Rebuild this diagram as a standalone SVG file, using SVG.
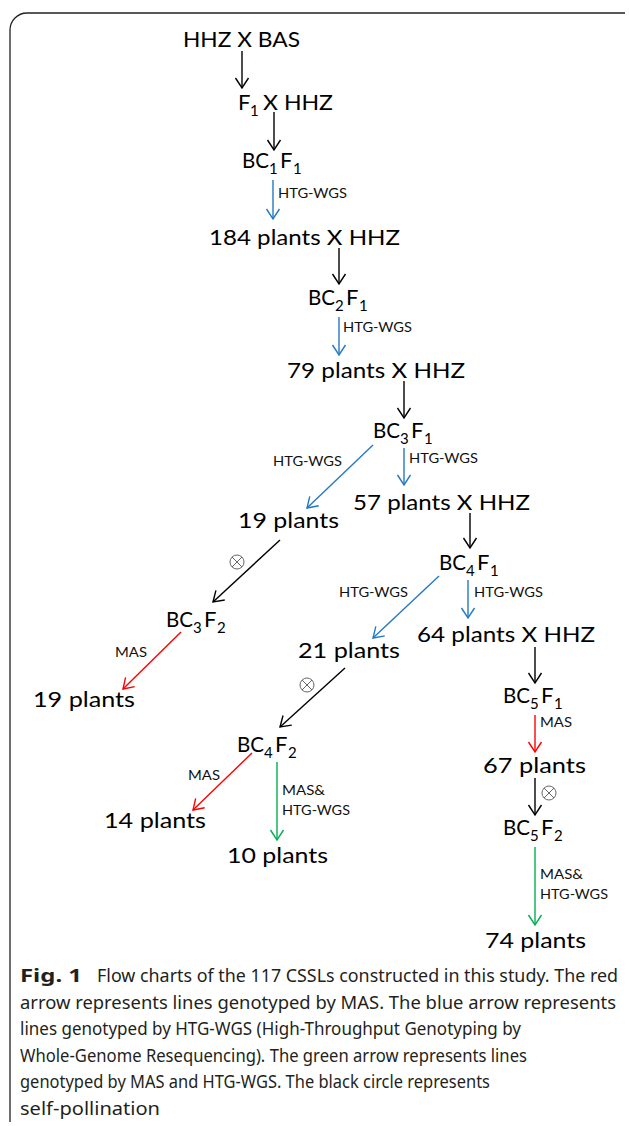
<svg xmlns="http://www.w3.org/2000/svg" width="629" height="1126" viewBox="0 0 629 1126">
<style>
.n{font-family:Lato,"Liberation Sans",sans-serif;font-size:22px;fill:#000}
.s{font-size:15px}
.l{font-family:Lato,"Liberation Sans",sans-serif;font-size:14px;fill:#111}
.cap{font-family:"Noto Sans","Open Sans","Liberation Sans",sans-serif;font-size:18px;fill:#231f20}
.k{stroke:#000;stroke-width:1.4;fill:none}
.b{stroke:#2479c4;stroke-width:1.4;fill:none}
.r{stroke:#ff0000;stroke-width:1.4;fill:none}
.g{stroke:#00b050;stroke-width:1.4;fill:none}
.self{stroke:#666;stroke-width:1;fill:none}
</style>
<defs>
<marker id="hk" markerUnits="userSpaceOnUse" markerWidth="20" markerHeight="20" refX="10" refY="10" orient="auto" overflow="visible"><path d="M0,3.5 L10,10 L0,16.5" fill="none" stroke="#000" stroke-width="1.4"/></marker>
<marker id="hb" markerUnits="userSpaceOnUse" markerWidth="20" markerHeight="20" refX="10" refY="10" orient="auto" overflow="visible"><path d="M0,3.5 L10,10 L0,16.5" fill="none" stroke="#2479c4" stroke-width="1.4"/></marker>
<marker id="hr" markerUnits="userSpaceOnUse" markerWidth="20" markerHeight="20" refX="10" refY="10" orient="auto" overflow="visible"><path d="M0,3.5 L10,10 L0,16.5" fill="none" stroke="#ff0000" stroke-width="1.4"/></marker>
<marker id="hg" markerUnits="userSpaceOnUse" markerWidth="20" markerHeight="20" refX="10" refY="10" orient="auto" overflow="visible"><path d="M0,3.5 L10,10 L0,16.5" fill="none" stroke="#00b050" stroke-width="1.4"/></marker>
</defs>
<rect width="629" height="1126" fill="#fff"/>
<path d="M10,1122 V30 A17,17 0 0 1 27,13 H625" fill="none" stroke="#222" stroke-width="1.3"/>

<g id="connectors">
<line class="k" x1="242" y1="51" x2="242" y2="88" marker-end="url(#hk)"/>
<line class="k" x1="274" y1="112" x2="274" y2="150" marker-end="url(#hk)"/>
<line class="b" x1="273" y1="180" x2="273" y2="219" marker-end="url(#hb)"/>
<text class="l" x="278" y="198" textLength="69" lengthAdjust="spacingAndGlyphs">HTG-WGS</text>
<line class="k" x1="339" y1="248" x2="339" y2="284" marker-end="url(#hk)"/>
<line class="b" x1="339" y1="317" x2="339" y2="355" marker-end="url(#hb)"/>
<text class="l" x="343" y="332" textLength="69" lengthAdjust="spacingAndGlyphs">HTG-WGS</text>
<line class="k" x1="404" y1="381" x2="404" y2="418" marker-end="url(#hk)"/>
<line class="b" x1="373" y1="445" x2="307" y2="508" marker-end="url(#hb)"/>
<text class="l" x="273" y="466" textLength="69" lengthAdjust="spacingAndGlyphs">HTG-WGS</text>
<line class="b" x1="404" y1="448" x2="404" y2="485" marker-end="url(#hb)"/>
<text class="l" x="409" y="463" textLength="69" lengthAdjust="spacingAndGlyphs">HTG-WGS</text>
<line class="k" x1="470" y1="513" x2="470" y2="548" marker-end="url(#hk)"/>
<line class="k" x1="280" y1="540" x2="213" y2="602" marker-end="url(#hk)"/>
<g class="self"><circle cx="237" cy="562" r="7"/><path d="M232,557 L242,567 M242,557 L232,567"/></g>
<line class="b" x1="439" y1="576" x2="373" y2="638" marker-end="url(#hb)"/>
<text class="l" x="339" y="597" textLength="69" lengthAdjust="spacingAndGlyphs">HTG-WGS</text>
<line class="b" x1="468" y1="580" x2="468" y2="618" marker-end="url(#hb)"/>
<text class="l" x="474" y="597" textLength="69" lengthAdjust="spacingAndGlyphs">HTG-WGS</text>
<line class="r" x1="181" y1="632" x2="123" y2="689" marker-end="url(#hr)"/>
<text class="l" x="115" y="657" textLength="32" lengthAdjust="spacingAndGlyphs">MAS</text>
<line class="k" x1="345" y1="668" x2="280" y2="727" marker-end="url(#hk)"/>
<g class="self"><circle cx="307" cy="685" r="7"/><path d="M302,680 L312,690 M312,680 L302,690"/></g>
<line class="r" x1="252" y1="753" x2="193" y2="810" marker-end="url(#hr)"/>
<text class="l" x="188" y="780" textLength="32" lengthAdjust="spacingAndGlyphs">MAS</text>
<line class="g" x1="277" y1="762" x2="277" y2="840" marker-end="url(#hg)"/>
<text class="l" x="282" y="795" textLength="43" lengthAdjust="spacingAndGlyphs">MAS&amp;</text>
<text class="l" x="282" y="815" textLength="68" lengthAdjust="spacingAndGlyphs">HTG-WGS</text>
<line class="k" x1="535" y1="647" x2="535" y2="683" marker-end="url(#hk)"/>
<line class="r" x1="535" y1="715" x2="535" y2="752" marker-end="url(#hr)"/>
<text class="l" x="540" y="727" textLength="32" lengthAdjust="spacingAndGlyphs">MAS</text>
<line class="k" x1="535" y1="778" x2="535" y2="815" marker-end="url(#hk)"/>
<g class="self"><circle cx="549" cy="793" r="7"/><path d="M544,788 L554,798 M554,788 L544,798"/></g>
<line class="g" x1="535" y1="847" x2="535" y2="925" marker-end="url(#hg)"/>
<text class="l" x="540" y="879" textLength="43" lengthAdjust="spacingAndGlyphs">MAS&amp;</text>
<text class="l" x="540" y="899" textLength="68" lengthAdjust="spacingAndGlyphs">HTG-WGS</text>
</g>

<g id="n1"><text class="n" x="183" y="47" textLength="117" lengthAdjust="spacingAndGlyphs">HHZ X BAS</text></g>
<g id="n2"><text class="n" x="238" y="110">F<tspan class="s" x="250" dy="6">1</tspan><tspan x="263" dy="-6" textLength="70" lengthAdjust="spacingAndGlyphs">X HHZ</tspan></text></g>
<g id="n3"><text class="n" y="168"><tspan x="242" textLength="27" lengthAdjust="spacingAndGlyphs">BC</tspan><tspan class="s" x="269" dy="6">1</tspan><tspan x="280" dy="-6">F</tspan><tspan class="s" x="293" dy="6">1</tspan></text></g>
<g id="n4"><text class="n" x="209" y="245" textLength="191" lengthAdjust="spacingAndGlyphs">184 plants X HHZ</text></g>
<g id="n5"><text class="n" y="305"><tspan x="308" textLength="27" lengthAdjust="spacingAndGlyphs">BC</tspan><tspan class="s" x="335" dy="6">2</tspan><tspan x="346" dy="-6">F</tspan><tspan class="s" x="359" dy="6">1</tspan></text></g>
<g id="n6"><text class="n" x="287" y="378" textLength="178" lengthAdjust="spacingAndGlyphs">79 plants X HHZ</text></g>
<g id="n7"><text class="n" y="438"><tspan x="373" textLength="27" lengthAdjust="spacingAndGlyphs">BC</tspan><tspan class="s" x="400" dy="6">3</tspan><tspan x="411" dy="-6">F</tspan><tspan class="s" x="424" dy="6">1</tspan></text></g>
<g id="n8"><text class="n" x="353" y="510" textLength="177" lengthAdjust="spacingAndGlyphs">57 plants X HHZ</text></g>
<g id="n9"><text class="n" x="238" y="528" textLength="101" lengthAdjust="spacingAndGlyphs">19 plants</text></g>
<g id="n10"><text class="n" y="570"><tspan x="439" textLength="27" lengthAdjust="spacingAndGlyphs">BC</tspan><tspan class="s" x="466" dy="6">4</tspan><tspan x="477" dy="-6">F</tspan><tspan class="s" x="490" dy="6">1</tspan></text></g>
<g id="n11"><text class="n" x="417" y="642" textLength="178" lengthAdjust="spacingAndGlyphs">64 plants X HHZ</text></g>
<g id="n12"><text class="n" x="298" y="658" textLength="102" lengthAdjust="spacingAndGlyphs">21 plants</text></g>
<g id="n13"><text class="n" y="627"><tspan x="166" textLength="27" lengthAdjust="spacingAndGlyphs">BC</tspan><tspan class="s" x="193" dy="6">3</tspan><tspan x="204" dy="-6">F</tspan><tspan class="s" x="217" dy="6">2</tspan></text></g>
<g id="n14"><text class="n" x="33" y="707" textLength="102" lengthAdjust="spacingAndGlyphs">19 plants</text></g>
<g id="n15"><text class="n" y="752"><tspan x="237" textLength="27" lengthAdjust="spacingAndGlyphs">BC</tspan><tspan class="s" x="264" dy="6">4</tspan><tspan x="275" dy="-6">F</tspan><tspan class="s" x="288" dy="6">2</tspan></text></g>
<g id="n16"><text class="n" x="104" y="828" textLength="102" lengthAdjust="spacingAndGlyphs">14 plants</text></g>
<g id="n17"><text class="n" x="227" y="863" textLength="101" lengthAdjust="spacingAndGlyphs">10 plants</text></g>
<g id="n18"><text class="n" y="703"><tspan x="503" textLength="27" lengthAdjust="spacingAndGlyphs">BC</tspan><tspan class="s" x="530" dy="6">5</tspan><tspan x="541" dy="-6">F</tspan><tspan class="s" x="554" dy="6">1</tspan></text></g>
<g id="n19"><text class="n" x="483" y="773" textLength="103" lengthAdjust="spacingAndGlyphs">67 plants</text></g>
<g id="n20"><text class="n" y="835"><tspan x="503" textLength="27" lengthAdjust="spacingAndGlyphs">BC</tspan><tspan class="s" x="530" dy="6">5</tspan><tspan x="541" dy="-6">F</tspan><tspan class="s" x="554" dy="6">2</tspan></text></g>
<g id="n21"><text class="n" x="485" y="948" textLength="101" lengthAdjust="spacingAndGlyphs">74 plants</text></g>

<g id="caption">
<text class="cap" y="982"><tspan x="20" font-weight="bold" textLength="62" lengthAdjust="spacingAndGlyphs">Fig. 1</tspan><tspan x="97" textLength="521" lengthAdjust="spacingAndGlyphs">Flow charts of the 117 CSSLs constructed in this study. The red</tspan></text>
<text class="cap" x="20" y="1008.5" textLength="596" lengthAdjust="spacingAndGlyphs">arrow represents lines genotyped by MAS. The blue arrow represents</text>
<text class="cap" x="20" y="1035" textLength="501" lengthAdjust="spacingAndGlyphs">lines genotyped by HTG-WGS (High-Throughput Genotyping by</text>
<text class="cap" x="20" y="1061.5" textLength="507" lengthAdjust="spacingAndGlyphs">Whole-Genome Resequencing). The green arrow represents lines</text>
<text class="cap" x="20" y="1088" textLength="470" lengthAdjust="spacingAndGlyphs">genotyped by MAS and HTG-WGS. The black circle represents</text>
<text class="cap" x="20" y="1114.5" textLength="140" lengthAdjust="spacingAndGlyphs">self-pollination</text>
</g>
</svg>
